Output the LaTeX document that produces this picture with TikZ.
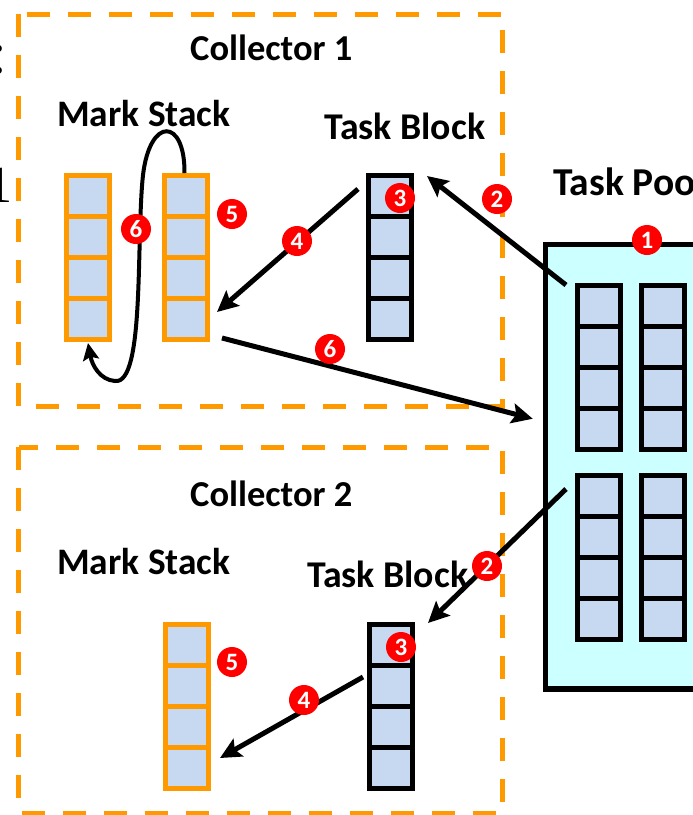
\documentclass[tikz,border=0pt]{standalone}
\usepackage{fontspec}
\setmainfont{Carlito}
\newfontfamily\romanfont{Liberation Serif}
\usetikzlibrary{arrows.meta,calc}

\definecolor{stackorange}{HTML}{FF9900}
\definecolor{cellblue}{HTML}{C6D9F1}
\definecolor{poolcyan}{HTML}{CCFFFF}
\definecolor{badgered}{HTML}{FF0000}

\tikzset{
  collector/.style={draw=stackorange, line width=5pt, dash pattern=on 23pt off 18pt},
  cell/.style={rectangle, draw=#1, fill=cellblue, line width=5pt,
    minimum width=43pt, minimum height=41pt, inner sep=0pt},
  title/.style={font=\fontsize{#1}{40}\selectfont\bfseries, anchor=base west, inner sep=0pt},
  title/.default=36.5,
  badge/.style={circle, fill=badgered, text=white, font=\fontsize{25}{25}\selectfont\bfseries,
    minimum size=30pt, inner sep=0pt},
  flow/.style={line width=5pt, -{Stealth[length=21pt,width=20pt,inset=4pt]}},
  loopflow/.style={line width=4pt, -{Stealth[length=17pt,width=16pt,inset=3pt]}},
  poolbox/.style={rectangle, draw=black, fill=poolcyan, line width=5.5pt, inner sep=0pt},
  fragment/.style={font=\romanfont\fontsize{#1}{#1}\selectfont, anchor=base east, inner sep=0pt},
}

% a column of four cells: name, left edge, top edge, border colour
\newcommand\cellcolumn[4]{%
  \foreach \i in {1,...,4}{%
    \node[cell=#4] (#1-\i) at ({#2+24}, {#3+23+41*(\i-1)}) {};
  }%
}

\begin{document}
\begin{tikzpicture}[x=1pt, y=-1pt]
  \clip (0,0) rectangle (693,815);
  \fill[white] (0,0) rectangle (693,815);

  % pieces of neighbouring text at the left margin
  \node[fragment=60] (fragcolon) at (7,73) {:};
  \node[fragment=52] (fragone) at (13,202) {1};

  % collector frames
  \draw[collector] (18.5,14) rectangle (502.5,406.5);
  \draw[collector] (18.5,447) rectangle (502.5,813);

  % task pool
  \node[poolbox, minimum width=164.5pt, minimum height=444.5pt] (pool) at (627.75,466.75) {};
  \cellcolumn{pu1}{575}{283}{black}
  \cellcolumn{pu2}{639}{283}{black}
  \cellcolumn{pl1}{575}{473}{black}
  \cellcolumn{pl2}{639}{473}{black}

  % collector 1
  \cellcolumn{msA}{64}{173}{stackorange}
  \cellcolumn{msB}{162}{173}{stackorange}
  \cellcolumn{tb1}{366}{173}{black}

  % collector 2
  \cellcolumn{ms2}{163}{622}{stackorange}
  \cellcolumn{tb2}{367}{622}{black}

  % titles
  \node[title] (c1title) at (190,60) {Collector 1};
  \node[title=37.4] (ms1title) at (57,126) {Mark Stack};
  \node[title=37.8] (tb1title) at (324,139) {Task Block};
  \node[title=39.5] (pooltitle) at (553,195) {Task Pool};
  \node[title] (c2title) at (190,506) {Collector 2};
  \node[title=37.4] (ms2title) at (57,574) {Mark Stack};
  \node[title=37.8] (tb2title) at (307,587) {Task Block};

  % flows
  \draw[flow] ([shift={(-9,2)}]pu1-1.north west) -- ([shift={(13,3)}]tb1-1.north east);
  \draw[flow] ([shift={(-8,-7)}]tb1-1.west) -- ([shift={(7,-7)}]msB-4.east);
  \draw[flow] ([shift={(12,-4)}]msB-4.south east) -- ([shift={(-10,-48)}]pool.west);
  \draw[flow] ([shift={(-9,16)}]pl1-1.north west) -- ([shift={(13,1)}]tb2-1.north east);
  \draw[flow] ([shift={(-4,-9)}]tb2-2.west) -- ([shift={(9,-10)}]ms2-4.east);
  \draw[loopflow] ([xshift=-1.5pt]msB-1.north)
      .. controls (185,118) and (150,116) .. (143,175)
      .. controls (136,240) and (145,385) .. (115,381)
      .. controls (100,380) and (92,365) .. ([yshift=-1pt]msA-4.south);

  % step badges
  \node[badge] (s1) at (647,240) {1};
  \node[badge] (s2a) at (497,199) {2};
  \node[badge] (s3a) at (400,198) {3};
  \node[badge] (s4a) at (297,241) {4};
  \node[badge] (s5a) at (232,214) {5};
  \node[badge] (s6a) at (136,229) {6};
  \node[badge] (s6b) at (330,349) {6};
  \node[badge] (s2b) at (487,566) {2};
  \node[badge] (s3b) at (401,647) {3};
  \node[badge] (s5b) at (232,662) {5};
  \node[badge] (s4b) at (304,700) {4};
\end{tikzpicture}
\end{document}
